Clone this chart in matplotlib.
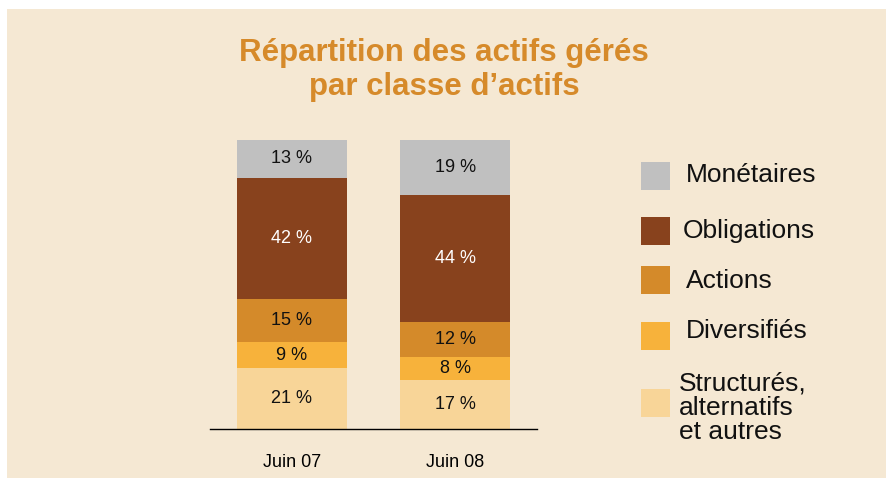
import numpy as np
import matplotlib.pyplot as plt
from matplotlib.patches import Rectangle

plt.rcParams['font.family'] = ['Liberation Sans', 'DejaVu Sans']

periods = ['Juin 07', 'Juin 08']
classes = ['Structurés,\nalternatifs\net autres', 'Diversifiés', 'Actions', 'Obligations', 'Monétaires']
structures = [21, 17]
diversifies = [9, 8]
actions = [15, 12]
obligations = [42, 44]
monetaires = [13, 19]

colors = ['#F8D598', '#F7B23B', '#D48A2A', '#88421D', '#C0C0C0']
label_colors = ['#111111', '#111111', '#111111', 'white', '#111111']
bg = '#F5E8D3'

W, H = 887, 478
fig = plt.figure(figsize=(W / 100, H / 100), dpi=100, facecolor='white')
fig.patches.append(Rectangle((7 / W, 0), 1, 1 - 9 / H, transform=fig.transFigure,
                             facecolor=bg, edgecolor='none', zorder=-10))

ax = fig.add_axes([210 / W, (H - 429) / H, 327 / W, 289 / H])
ax.set_facecolor('none')

index = np.arange(len(periods))
bar_width = 0.67
series = [structures, diversifies, actions, obligations, monetaires]
bottom = np.zeros(len(periods))
for vals, col, lc in zip(series, colors, label_colors):
    vals = np.array(vals)
    ax.bar(index, vals, bar_width, bottom=bottom, color=col, edgecolor='none')
    for x, b, v in zip(index, bottom, vals):
        ax.text(x, b + v / 2, '%d %%' % v, ha='center', va='center',
                fontsize=13, color=lc)
    bottom += vals

ax.set_xlim(-0.5, 1.5)
ax.set_ylim(0, 100)
ax.set_yticks([])
ax.set_xticks(index)
ax.set_xticklabels(periods, fontsize=13)
ax.tick_params(axis='x', length=0, pad=18)
for s in ['top', 'right', 'left']:
    ax.spines[s].set_visible(False)
ax.spines['bottom'].set_linewidth(1.0)

fig.text(444 / W, 1 - 70 / H, 'Répartition des actifs gérés\npar classe d\u2019actifs',
         ha='center', va='center', fontsize=22.5, fontweight='bold',
         color='#D68A2A', linespacing=1.18)

# legend, drawn by hand
leg_y = [403, 336, 280, 231, 176]
text_y = [408, 331, 281, 231, 175]
text_x = [679, 686, 686, 683, 686]
for name, col, yc, ty, tx in zip(classes, colors, leg_y, text_y, text_x):
    fig.patches.append(Rectangle((641 / W, 1 - (yc + 14) / H), 29 / W, 28 / H,
                                 transform=fig.transFigure, facecolor=col,
                                 edgecolor='none'))
    fig.text(tx / W, 1 - ty / H, name, ha='left', va='center', fontsize=19,
             color='#111111', linespacing=1.0)

fig.savefig('out.png', dpi=100, facecolor='white')
